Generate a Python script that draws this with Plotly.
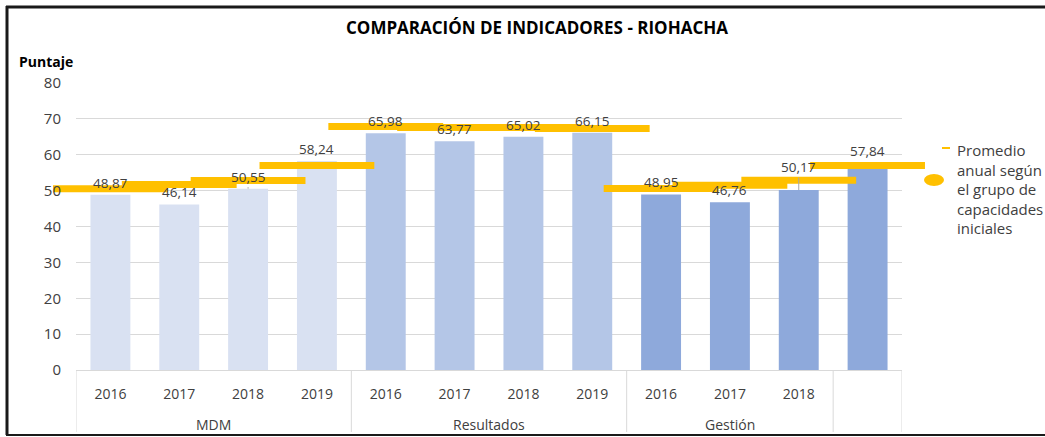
# _*_ coding: utf-8 _*_

"""
comparación de indicadores - riohacha
"""

import plotly.graph_objects as go

# data =====================================================================
YEARS = ["2016", "2017", "2018", "2019", "2016", "2017", "2018", "2019", "2016", "2017", "2018", ""]
GROUPS = ["MDM", "Resultados", "Gestión", ""]
GROUP_SIZE = [4, 4, 3, 1]
PUNTAJE = [48.87, 46.14, 50.55, 58.24, 65.98, 63.77, 65.02, 66.15, 48.95, 46.76, 50.17, 57.84]
PROMEDIO = [50.5, 51.7, 52.8, 57.0, 67.9, 67.6, 67.6, 67.3, 50.6, 51.5, 52.9, 57.0]
LABELS = ["48,87", "46,14", "50,55", "58,24", "65,98", "63,77", "65,02", "66,15", "48,95", "46,76", "50,17", "57,84"]

# style ====================================================================
W, H = 1045, 437
ML, MR, MT, MB = 76, 143, 83, 67
PW, PH = W - ML - MR, H - MT - MB
FONT = "Open Sans"
TXT = "#404040"
YELLOW = "#FFC000"
GRID = "#D9D9D9"
BAR_COLORS = ["#D9E1F2"] * 4 + ["#B4C6E7"] * 4 + ["#8EA9DB"] * 4
LABEL_SHIFT = [12, 12, 12, 12, 12, 12, 12, 12, 12, 12, 23, 12]
LEADER = [False, False, True, False, False, False, False, False, False, False, True, False]


def px_x(p):
    return (p - ML) / PW


def px_y(p):
    return (H - MB - p) / PH


xs = list(range(len(YEARS)))

fig = go.Figure()
fig.add_trace(go.Bar(x=xs, y=PUNTAJE, marker=dict(color=BAR_COLORS, line_width=0),
                     width=0.58, showlegend=False, hoverinfo="y"))
fig.add_trace(go.Scatter(x=xs, y=PROMEDIO, mode="markers", showlegend=False, cliponaxis=False,
                         marker=dict(symbol="line-ew", size=82, color=YELLOW,
                                     line=dict(color=YELLOW, width=7))))

# data labels
for i, (v, t) in enumerate(zip(PUNTAJE, LABELS)):
    if LEADER[i]:
        fig.add_annotation(x=i, y=v, text=t, showarrow=True, ax=0, ay=-LABEL_SHIFT[i],
                           arrowhead=0, arrowwidth=1, arrowcolor="#A6A6A6",
                           font=dict(family=FONT, size=13.5, color=TXT))
    else:
        fig.add_annotation(x=i, y=v, text=t, showarrow=False, yshift=LABEL_SHIFT[i],
                           font=dict(family=FONT, size=13.5, color=TXT))

# group labels and dividers under the axis
start = -0.5
fig.add_shape(type="line", xref="x", yref="paper", x0=start, x1=start, y0=0, y1=px_y(432),
              line=dict(color=GRID, width=1))
for g, n in zip(GROUPS, GROUP_SIZE):
    end = start + n
    fig.add_shape(type="line", xref="x", yref="paper", x0=end, x1=end, y0=0, y1=px_y(432),
                  line=dict(color=GRID, width=1))
    if g:
        fig.add_annotation(x=(start + end) / 2, xref="x", yref="paper", y=px_y(424), yanchor="middle",
                           text=g, showarrow=False, font=dict(family=FONT, size=14, color=TXT))
    start = end

# axis title
fig.add_annotation(xref="paper", yref="paper", x=px_x(17), y=px_y(62), xanchor="left", yanchor="middle",
                   text="<b>Puntaje</b>", showarrow=False, font=dict(family=FONT, size=14, color="#000000"))

# legend (manual)
fig.add_annotation(xref="paper", yref="paper", x=px_x(955), y=px_y(138), xanchor="left", yanchor="top",
                   align="left", showarrow=False,
                   text="Promedio<br>anual según<br>el grupo de<br>capacidades<br>iniciales",
                   font=dict(family=FONT, size=15, color=TXT))
fig.add_shape(type="line", xref="paper", yref="paper", x0=px_x(942), x1=px_x(950), y0=px_y(148), y1=px_y(148),
              line=dict(color=YELLOW, width=2))
fig.add_shape(type="circle", xref="paper", yref="paper", x0=px_x(924), x1=px_x(944), y0=px_y(174), y1=px_y(186),
              fillcolor=YELLOW, line_width=0)

# outer frame
fig.add_shape(type="line", xref="paper", yref="paper", x0=px_x(6), x1=px_x(1045), y0=px_y(7), y1=px_y(7),
              line=dict(color="#1a1a1a", width=3))
fig.add_shape(type="line", xref="paper", yref="paper", x0=px_x(7), x1=px_x(7), y0=px_y(6), y1=px_y(435),
              line=dict(color="#1a1a1a", width=3))
fig.add_shape(type="line", xref="paper", yref="paper", x0=px_x(6), x1=px_x(1045), y0=px_y(435), y1=px_y(435),
              line=dict(color="#1a1a1a", width=2))

fig.update_layout(
    width=W, height=H,
    margin=dict(l=ML, r=MR, t=MT, b=MB),
    paper_bgcolor="white", plot_bgcolor="white",
    font=dict(family=FONT, size=14, color=TXT),
    title=dict(text="<b>COMPARACIÓN DE INDICADORES - RIOHACHA</b>", x=537 / W, xanchor="center",
               y=1 - 28 / H, yanchor="middle", font=dict(family=FONT, size=17, color="#000000")),
)
fig.update_xaxes(range=[-0.5, 11.5], tickmode="array", tickvals=xs, ticktext=YEARS,
                 showline=True, linecolor=GRID, linewidth=1, showgrid=False, zeroline=False,
                 ticks="", ticklabelstandoff=11, automargin=False,
                 tickfont=dict(family=FONT, size=14, color=TXT))
fig.update_yaxes(range=[0, 80], dtick=10, showgrid=True, gridcolor=GRID, gridwidth=1,
                 zeroline=False, ticks="", ticklabelstandoff=14, automargin=False,
                 tickfont=dict(family=FONT, size=15, color=TXT))

fig.write_html("out.html", config={"displayModeBar": False},
               post_script="document.body.style.margin='0px';")
